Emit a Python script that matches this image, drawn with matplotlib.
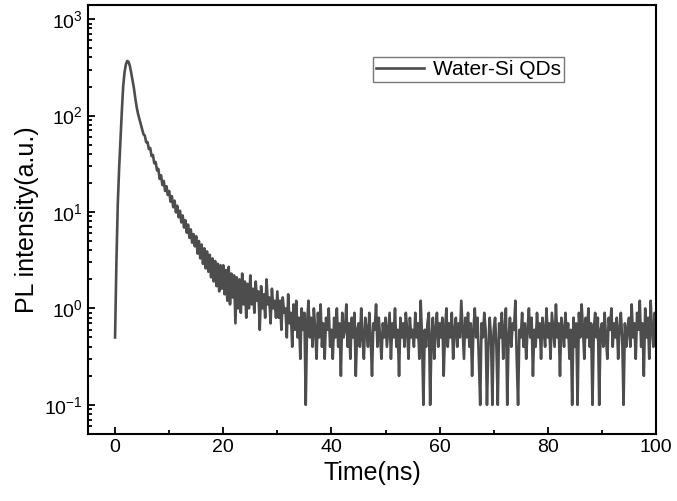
import numpy as np
import matplotlib
matplotlib.use("Agg")
import matplotlib.pyplot as plt
from matplotlib.ticker import LogLocator, MultipleLocator, NullFormatter

# ── Style ────────────────────────────────────────────────────────────────
plt.rcParams.update({
    "font.family": ["Liberation Sans", "DejaVu Sans"],
    "mathtext.fontset": "custom",
    "mathtext.rm": "Liberation Sans",
    "mathtext.it": "Liberation Sans:italic",
    "mathtext.bf": "Liberation Sans:bold",
    "mathtext.default": "regular",
    "axes.unicode_minus": False,
})

# ── Data (0.25 ns channels) ─────────────────────────────────────────────
TIME_STEP = 0.25
pl_intensity = [
    # 0 - 4.75 ns
    0.5, 3, 12, 28, 55, 110, 200, 280, 340, 368, 360, 325, 275, 228, 190, 150, 122, 104, 92, 82,
    # 5 - 9.75 ns
    72, 64, 62, 53, 53, 45, 46, 38, 39, 32, 33, 27, 28, 22, 24, 19, 21, 16.5, 18.5, 15,
    # 10 - 14.75 ns
    16.5, 12.8, 14.6, 11.2, 13.1, 9.9, 11.6, 8.8, 10.3, 7.8, 9.2, 6.9, 8.2, 6.1, 7.4, 5.4, 6.6, 4.8, 5.9, 4.4,
    # 15 - 19.75 ns
    5.6, 3.7, 5.0, 3.3, 4.6, 2.9, 4.2, 2.6, 3.9, 2.4, 3.6, 2.1, 3.3, 1.9, 3.1, 1.7, 2.9, 1.5, 2.8, 1.6,
    # 20 - 24.75 ns
    2.8, 1.4, 2.5, 1.2, 2.7, 1.1, 2.3, 1.3, 2.2, 0.7, 2.1, 1.0, 2.0, 0.9, 2.3, 1.1, 1.9, 0.8, 1.8, 1.0,
    # 25 - 29.75 ns
    2.2, 1.1, 1.6, 0.9, 1.9, 1.2, 1.5, 0.6, 1.7, 1.0, 1.4, 0.8, 2.0, 1.1, 1.3, 0.7, 1.6, 1.0, 1.2, 0.8,
    # 30 - 34.75 ns
    1.5, 0.8, 1.2, 0.6, 1.3, 0.9, 1.0, 0.5, 1.4, 0.7, 0.9, 0.4, 1.1, 0.6, 1.2, 0.5, 0.8, 0.3, 1.0, 0.6,
    # 35 - 39.75 ns
    0.9, 0.1, 0.7, 1.2, 0.5, 0.8, 0.4, 1.0, 0.6, 0.3, 0.9, 0.5, 1.1, 0.4, 0.7, 0.3, 0.8, 0.6, 1.0, 0.4,
    # 40 - 44.75 ns
    0.6, 0.3, 0.8, 0.5, 1.0, 0.4, 0.7, 0.2, 0.9, 0.5, 0.6, 1.1, 0.4, 0.7, 0.3, 0.8, 0.5, 0.9, 0.2, 0.6,
    # 45 - 49.75 ns
    0.7, 0.4, 1.0, 0.5, 0.3, 0.8, 0.6, 0.4, 0.9, 0.5, 0.2, 0.7, 0.6, 1.1, 0.4, 0.8, 0.5, 0.3, 0.7, 0.5,
    # 50 - 54.75 ns
    0.8, 0.4, 0.6, 0.9, 0.3, 0.7, 0.5, 1.0, 0.4, 0.6, 0.2, 0.8, 0.5, 0.7, 0.4, 0.9, 0.6, 0.3, 0.8, 0.5,
    # 55 - 59.75 ns
    0.6, 0.4, 0.9, 0.5, 0.7, 0.3, 1.2, 0.5, 0.1, 0.6, 0.4, 0.7, 0.9, 0.1, 0.5, 0.8, 0.3, 0.6, 0.9, 0.4,
    # 60 - 64.75 ns
    0.7, 0.5, 0.8, 0.2, 0.6, 1.0, 0.4, 0.7, 0.5, 0.9, 0.3, 0.6, 0.8, 0.4, 0.7, 0.5, 1.2, 0.6, 0.3, 0.8,
    # 65 - 69.75 ns
    0.5, 0.9, 0.4, 0.7, 0.2, 0.6, 1.0, 0.5, 0.8, 0.3, 0.1, 0.7, 0.5, 0.9, 0.6, 0.1, 0.4, 0.8, 0.5, 0.1,
    # 70 - 74.75 ns
    0.6, 0.8, 0.4, 0.1, 0.7, 0.5, 0.9, 0.3, 0.6, 1.0, 0.1, 0.5, 0.8, 0.4, 0.7, 0.6, 1.2, 0.3, 0.1, 0.6,
    # 75 - 79.75 ns
    0.5, 0.9, 0.4, 0.7, 0.3, 0.6, 1.0, 0.5, 0.8, 0.2, 0.6, 0.4, 0.9, 0.5, 0.7, 0.3, 0.8, 0.6, 0.4, 1.0,
    # 80 - 84.75 ns
    0.5, 0.7, 0.3, 0.9, 0.6, 0.4, 1.1, 0.5, 0.7, 0.2, 0.8, 0.6, 0.4, 0.9, 0.5, 0.7, 0.3, 0.6, 0.1, 0.8,
    # 85 - 89.75 ns
    0.4, 0.7, 0.1, 0.9, 0.5, 1.1, 0.6, 0.3, 0.8, 0.5, 1.0, 0.4, 0.7, 0.1, 0.6, 0.9, 0.5, 0.8, 0.1, 0.6,
    # 90 - 94.75 ns
    0.7, 0.4, 0.9, 0.5, 0.3, 0.8, 0.6, 1.0, 0.4, 0.7, 0.5, 0.8, 0.3, 0.6, 0.9, 0.5, 0.1, 0.7, 0.4, 0.6,
    # 95 - 99.75 ns
    0.8, 0.4, 1.1, 0.5, 0.7, 0.3, 0.9, 0.6, 1.2, 0.4, 0.7, 0.2, 1.0, 0.5, 0.8, 0.3, 1.2, 0.6, 0.4, 0.9,
    # 100 ns
    0.5,
]
time_ns = np.arange(len(pl_intensity)) * TIME_STEP
series_label = "Water-Si QDs"


def main():
    fig = plt.figure(figsize=(6.77, 5.01), dpi=100)
    ax = fig.add_axes([0.130, 0.134, 0.839, 0.856])

    ax.plot(time_ns, pl_intensity, color="#4d4d4d", linewidth=1.9,
            label=series_label)

    ax.set_yscale("log")
    ax.set_xlim(-5, 100)
    ax.set_ylim(0.05, 1400)

    ax.xaxis.set_major_locator(MultipleLocator(20))
    ax.xaxis.set_minor_locator(MultipleLocator(10))
    ax.yaxis.set_major_locator(LogLocator(base=10, numticks=10))
    ax.yaxis.set_minor_locator(LogLocator(base=10, subs=np.arange(2, 10), numticks=10))
    ax.yaxis.set_minor_formatter(NullFormatter())

    ax.tick_params(which="both", direction="in", top=False, right=False,
                   labelsize=14, width=1.3)
    ax.tick_params(which="major", length=5)
    ax.tick_params(which="minor", length=3)
    for sp in ax.spines.values():
        sp.set_linewidth(1.5)

    ax.set_xlabel("Time(ns)", fontsize=18, labelpad=4)
    ax.set_ylabel("PL intensity(a.u.)", fontsize=18, labelpad=4)

    leg = ax.legend(loc="upper left", bbox_to_anchor=(0.502, 0.879),
                    fontsize=15, frameon=True, fancybox=False,
                    borderpad=0.15, borderaxespad=0, handlelength=2.3,
                    handletextpad=0.4)
    leg.get_frame().set_edgecolor("#555555")
    leg.get_frame().set_linewidth(1.0)

    fig.savefig("out.png", dpi=100)
    plt.close(fig)


if __name__ == "__main__":
    main()
